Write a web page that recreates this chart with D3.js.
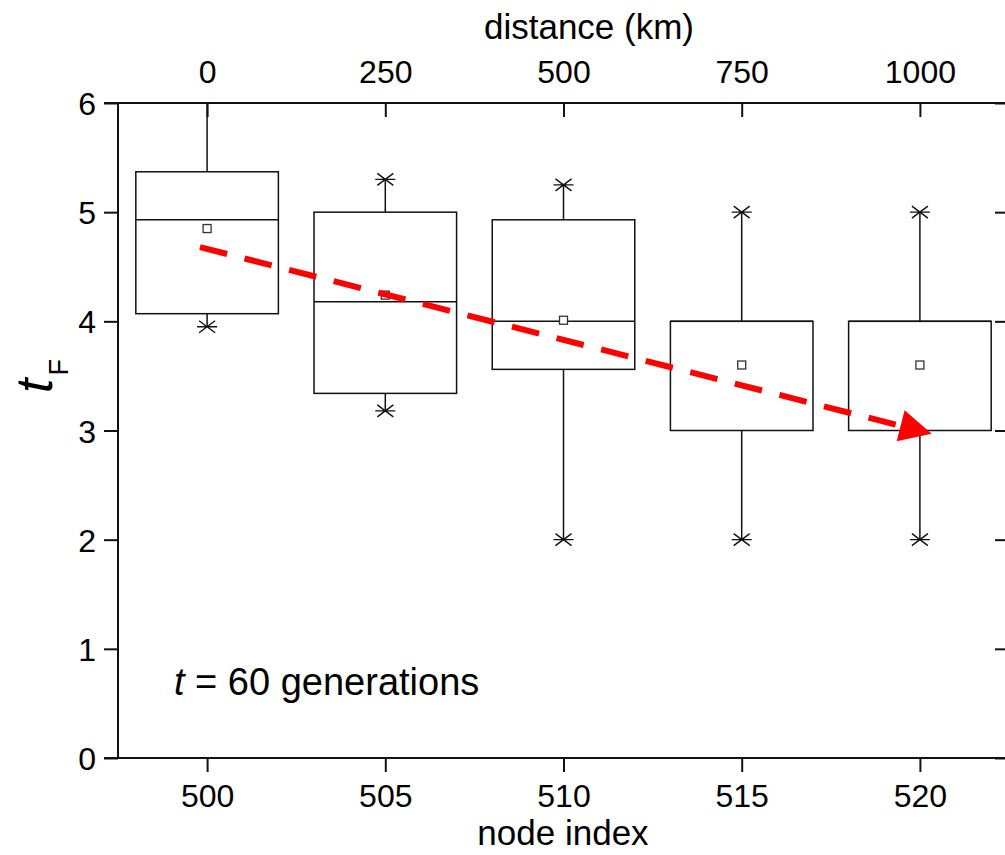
<!DOCTYPE html>
<html>
<head>
<meta charset="utf-8">
<script src="https://cdn.jsdelivr.net/npm/d3@7"></script>
<style>
  html, body { margin: 0; padding: 0; background: #fff; }
  svg text { font-family: "Liberation Sans", Arial, sans-serif; fill: #000; }
</style>
</head>
<body>
<svg id="chart" width="1005" height="855"></svg>
<script>
// ---- data ----
const nodes      = [500, 505, 510, 515, 520];
const boxHigh    = [5.37, 5.0, 4.93, 4.0, 4.0];
const boxMedian  = [4.93, 4.18, 4.0, 4.0, 4.0];
const boxLow     = [4.07, 3.34, 3.56, 3.0, 3.0];
const meanVals   = [4.85, 4.24, 4.01, 3.6, 3.6];
const whiskerHigh= [6.0, 5.3, 5.25, 5.0, 5.0];
const whiskerLow = [3.95, 3.18, 2.0, 2.0, 2.0];
const starHigh   = [null, 5.3, 5.25, 5.0, 5.0];
const starLow    = [3.95, 3.18, 2.0, 2.0, 2.0];
const boxHalfWidth = 2; // node units
const xTicks     = [500, 505, 510, 515, 520];
const distTicks  = [0, 250, 500, 750, 1000];
const kmPerNode  = 50;
const yTicks     = [0, 1, 2, 3, 4, 5, 6];
const trendX     = [499.8, 520.33];
const trendY     = [4.68, 2.97];

(function () {
const svg = d3.select("#chart");
const L = 118, R = 1009, T = 103, B = 758;
const x = d3.scaleLinear().domain([497.5, 522.5]).range([L, R]);
const y = d3.scaleLinear().domain([0, 6]).range([B, T]);
const tickLen = 14;

const g = svg.append("g");
nodes.forEach((n, i) => {
  const cx = x(n);
  const x0 = x(n - boxHalfWidth), x1 = x(n + boxHalfWidth);
  g.append("line").attr("x1", cx).attr("x2", cx)
    .attr("y1", y(boxHigh[i])).attr("y2", y(whiskerHigh[i]))
    .attr("stroke", "#111").attr("stroke-width", 1.5);
  g.append("line").attr("x1", cx).attr("x2", cx)
    .attr("y1", y(boxLow[i])).attr("y2", y(whiskerLow[i]))
    .attr("stroke", "#111").attr("stroke-width", 1.5);
  g.append("rect").attr("x", x0).attr("y", y(boxHigh[i]))
    .attr("width", x1 - x0).attr("height", y(boxLow[i]) - y(boxHigh[i]))
    .attr("fill", "none").attr("stroke", "#111").attr("stroke-width", 1.5);
  g.append("line").attr("x1", x0).attr("x2", x1)
    .attr("y1", y(boxMedian[i])).attr("y2", y(boxMedian[i]))
    .attr("stroke", "#111").attr("stroke-width", 1.5);
  [starHigh[i], starLow[i]].forEach(v => {
    if (v == null) return;
    const sy = y(v);
    const s = d3.path();
    s.moveTo(cx - 10, sy); s.lineTo(cx + 10, sy);
    s.moveTo(cx - 8, sy - 6); s.lineTo(cx + 8, sy + 6);
    s.moveTo(cx - 8, sy + 6); s.lineTo(cx + 8, sy - 6);
    g.append("path").attr("d", s.toString()).attr("stroke", "#111")
      .attr("stroke-width", 1.4).attr("fill", "none");
  });
  g.append("rect").attr("x", cx - 4).attr("y", y(meanVals[i]) - 4)
    .attr("width", 8).attr("height", 8)
    .attr("fill", "#fff").attr("stroke", "#333").attr("stroke-width", 1.3);
});

// red dashed trend arrow
const px0 = x(trendX[0]), py0 = y(trendY[0]);
const px1 = x(trendX[1]), py1 = y(trendY[1]);
const dx = px1 - px0, dy = py1 - py0, len = Math.hypot(dx, dy);
const ux = dx / len, uy = dy / len;
const headLen = 32, headHalf = 16;
const bx = px1 - ux * headLen, by = py1 - uy * headLen;
svg.append("line").attr("x1", px0).attr("y1", py0)
  .attr("x2", bx + ux * 2).attr("y2", by + uy * 2)
  .attr("stroke", "#ff0000").attr("stroke-width", 6)
  .attr("stroke-dasharray", "28 18");
svg.append("path")
  .attr("d", `M${px1},${py1} L${bx - uy * headHalf},${by + ux * headHalf} L${bx + uy * headHalf},${by - ux * headHalf} Z`)
  .attr("fill", "#ff0000");

// axes frame
const axStroke = 2;
svg.append("line").attr("x1", L).attr("x2", L).attr("y1", T).attr("y2", B).attr("stroke", "#111").attr("stroke-width", axStroke);
svg.append("line").attr("x1", R).attr("x2", R).attr("y1", T).attr("y2", B).attr("stroke", "#111").attr("stroke-width", axStroke);
svg.append("line").attr("x1", L - tickLen).attr("x2", R).attr("y1", B).attr("y2", B).attr("stroke", "#111").attr("stroke-width", axStroke);
svg.append("line").attr("x1", L - tickLen).attr("x2", R).attr("y1", T).attr("y2", T).attr("stroke", "#111").attr("stroke-width", axStroke);

const leftAx = svg.append("g").attr("transform", `translate(${L},0)`)
  .call(d3.axisLeft(y).tickValues(yTicks).tickSize(tickLen).tickPadding(8).tickFormat(d3.format("d")));
const rightAx = svg.append("g").attr("transform", `translate(${R},0)`)
  .call(d3.axisLeft(y).tickValues(yTicks).tickSize(0).tickFormat(""));
rightAx.selectAll(".tick line").attr("x1", 0).attr("x2", -tickLen);
const bottomAx = svg.append("g").attr("transform", `translate(0,${B})`)
  .call(d3.axisBottom(x).tickValues(xTicks).tickSize(tickLen).tickPadding(12).tickFormat(d3.format("d")));
const topAx = svg.append("g").attr("transform", `translate(0,${T})`)
  .call(d3.axisTop(x).tickValues(distTicks.map(d => 500 + d / kmPerNode))
    .tickSize(0).tickPadding(20).tickFormat(v => d3.format("d")((v - 500) * kmPerNode)));
topAx.selectAll(".tick line").attr("y1", 0).attr("y2", tickLen);

[leftAx, rightAx, bottomAx, topAx].forEach(a => {
  a.select(".domain").remove();
  a.selectAll(".tick line").attr("stroke", "#111").attr("stroke-width", axStroke);
  a.selectAll(".tick text").attr("font-size", 32).attr("font-family", "Liberation Sans, Arial, sans-serif").attr("fill", "#000");
});
leftAx.selectAll(".tick text").attr("dy", "0.36em");

svg.append("text").attr("x", 589).attr("y", 39).attr("text-anchor", "middle")
  .attr("font-size", 35).text("distance (km)");
svg.append("text").attr("x", 563).attr("y", 845).attr("text-anchor", "middle")
  .attr("font-size", 35).text("node index");

const yl = svg.append("text").attr("transform", "translate(52,393) rotate(-90)");
yl.append("tspan").attr("font-style", "italic").attr("font-size", 52).text("t");
yl.append("tspan").attr("font-size", 27).attr("dy", 16).attr("dx", 3).text("F");

const ann = svg.append("text").attr("x", 174).attr("y", 695).attr("font-size", 38);
ann.append("tspan").attr("font-style", "italic").text("t");
ann.append("tspan").text(" = 60 generations");
})();
</script>
</body>
</html>
